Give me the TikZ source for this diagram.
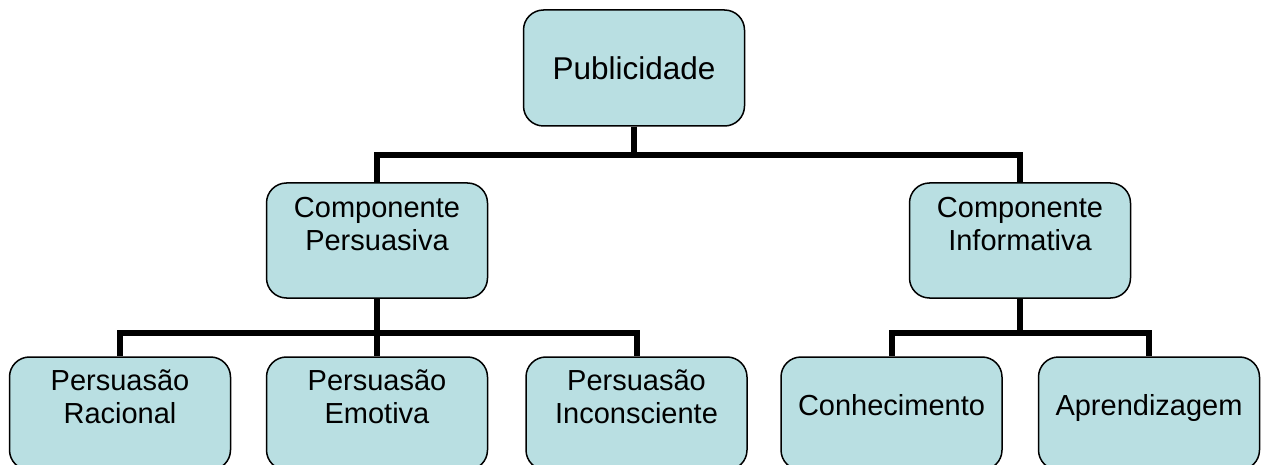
\documentclass[tikz,border=0pt]{standalone}
\usepackage{fontspec}
\setmainfont{Liberation Sans}
\definecolor{boxfill}{RGB}{185,223,226}
\tikzset{
  box/.style={draw=black, line width=1.5pt, fill=boxfill, rounded corners=20pt,
    minimum width=221pt, inner sep=0pt, align=center,
    font=\fontsize{29}{33}\selectfont},
  bar/.style={line width=6pt}
}
\begin{document}
\begin{tikzpicture}[x=1pt,y=-1pt]
      \useasboundingbox (0,0) rectangle (1264,465);
      \node[box, minimum height=116pt, font=\fontsize{31.5}{36}\selectfont] (pub) at (634,68) {Publicidade};
      \node[box, minimum height=115pt] (comp) at (377,240.5) {Componente\\Persuasiva\\~};
      \node[box, minimum height=115pt] (cinf) at (1020,240.5) {Componente\\Informativa\\~};
      \node[box, minimum height=113pt] (pr) at (120,413.5) {Persuasão\\Racional\\~};
      \node[box, minimum height=113pt] (pe) at (377,413.5) {Persuasão\\Emotiva\\~};
      \node[box, minimum height=113pt] (pi) at (636.5,413.5) {Persuasão\\Inconsciente\\~};
      \node[box, minimum height=113pt, text depth=18pt] (con) at (891.5,413.5) {Conhecimento};
      \node[box, minimum height=113pt, text depth=18pt] (apr) at (1149,413.5) {Aprendizagem};
      \begin{scope}[bar]
        \draw (pub.south) -- +(0,28.5) -| (comp.north);
        \draw (pub.south) -- +(0,28.5) -| (cinf.north);
        \draw (comp.south) -- +(0,34) -| (pr.north);
        \draw (comp.south) -- +(0,34) -| (pe.north);
        \draw (comp.south) -- +(0,34) -| (pi.north);
        \draw (cinf.south) -- +(0,34) -| (con.north);
        \draw (cinf.south) -- +(0,34) -| (apr.north);
      \end{scope}
    \end{tikzpicture}
\end{document}
